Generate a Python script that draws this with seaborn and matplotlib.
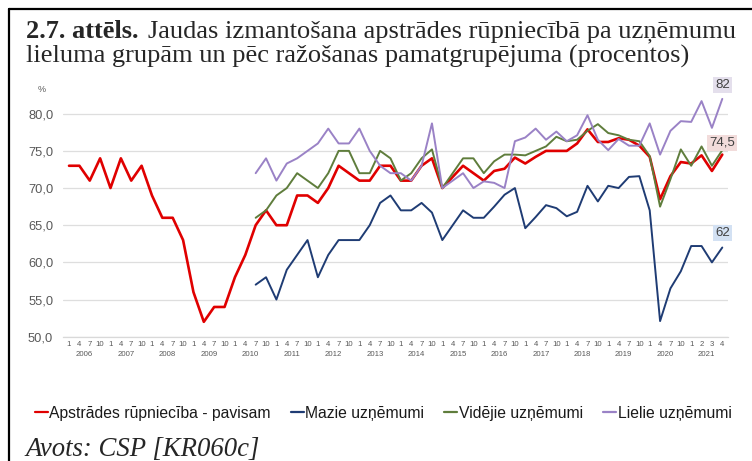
import numpy as np
import pandas as pd
import matplotlib
matplotlib.use("Agg")
import matplotlib.pyplot as plt
import matplotlib.transforms as mtransforms
from matplotlib.lines import Line2D
import seaborn as sns

# ---------------- data ----------------
years = list(range(2006, 2022))
quarter_labels = ["1", "4", "7", "10"] * 15 + ["1", "2", "3", "4"]

series_names = ["Apstrādes rūpniecība - pavisam", "Mazie uzņēmumi",
                "Vidējie uzņēmumi", "Lielie uzņēmumi"]

total = [73, 73, 71, 74, 70, 74, 71, 73, 69, 66, 66, 63, 56, 52, 54, 54,
         58, 61, 65, 67, 65, 65, 69, 69, 68, 70, 73, 72, 71, 71, 73, 73,
         71, 71, 73, 74, 70, 71.5, 73, 72, 71, 72.3, 72.6, 74.1,
         73.3, 74.2, 75, 75, 75, 76, 77.9, 76.2, 76.2, 76.7, 76.5, 75.7,
         74.2, 68.5, 71.6, 73.5, 73.3, 74.4, 72.3, 74.5]
# small / medium / large start at 2010 Q3 (index 18)
small = [57, 58, 55, 59, 61, 63, 58, 61, 63, 63, 63, 65, 68, 69,
         67, 67, 68, 66.7, 63, 65, 67, 66, 66, 67.5, 69.1, 70,
         64.6, 66.1, 67.7, 67.3, 66.2, 66.8, 70.3, 68.2, 70.3, 70, 71.5, 71.6,
         67, 52.1, 56.5, 58.8, 62.2, 62.2, 60, 62]
medium = [66, 67, 69, 70, 72, 71, 70, 72, 75, 75, 72, 72, 75, 74,
          71, 72, 74, 75.2, 70, 72, 74, 74, 72, 73.6, 74.5, 74.5,
          74.4, 75, 75.6, 76.9, 76.3, 76.5, 77.7, 78.6, 77.4, 77.1, 76.5, 76.3,
          74.3, 67.5, 71.2, 75.2, 73, 75.6, 73, 75.1]
large = [72, 74, 71, 73.3, 74, 75, 76, 78, 76, 76, 78, 75, 73, 72,
         72, 71, 73, 78.7, 70, 71, 72, 70, 70.9, 70.7, 70, 76.3,
         76.8, 78, 76.5, 77.6, 76.3, 77.1, 79.8, 76.5, 75.1, 76.6, 75.7, 75.7,
         78.7, 74.5, 77.7, 79, 78.9, 81.7, 78.1, 82]
start_sub = 18

colors = ["#e00000", "#1f3c74", "#5f7d3c", "#9a82c6"]
label_bg = ["#f2dcdb", "#d3e1f3", None, "#e4dfec"]
label_offset_pt = [8.5, 10.5, None, 10.0]

# ---------------- long-form table ----------------
rows = []
for i, v in enumerate(total):
    rows.append((i, v, series_names[0]))
for name, vals in zip(series_names[1:], [small, medium, large]):
    for j, v in enumerate(vals):
        rows.append((start_sub + j, v, name))
df = pd.DataFrame(rows, columns=["idx", "value", "series"])

# ---------------- figure ----------------
sns.set_style("white")
plt.rcParams["font.family"] = ["Liberation Sans", "DejaVu Sans"]

W, H = 752, 461
fig = plt.figure(figsize=(W / 100, H / 100), dpi=100)

def fx(px):
    return px / W

def fy(py):
    return (H - py) / H

ax_left, ax_right = 63, 728
ax_top, ax_bottom = 84.0, 336.7
ax = fig.add_axes([fx(ax_left), fy(ax_bottom), fx(ax_right - ax_left),
                   (ax_bottom - ax_top) / H])

palette = dict(zip(series_names, colors))
widths = {series_names[0]: 1.9, series_names[1]: 1.4,
          series_names[2]: 1.4, series_names[3]: 1.4}
sns.lineplot(data=df, x="idx", y="value", hue="series", hue_order=series_names,
             palette=palette, ax=ax, legend=False, estimator=None)
for line, name in zip(ax.get_lines(), series_names):
    line.set_linewidth(widths[name])
    line.set_solid_joinstyle("round")

n = len(total)
ax.set_xlim(-0.58, n - 1 + 0.55)
ax.set_ylim(50, 84)
ax.set_yticks([50, 55, 60, 65, 70, 75, 80])
ax.set_yticklabels([f"{v:.1f}".replace(".", ",") for v in [50, 55, 60, 65, 70, 75, 80]])
ax.yaxis.grid(True, color="#dedede", linewidth=0.9)
ax.set_axisbelow(True)
ax.set_xlabel("")
ax.set_ylabel("")
for s in ["top", "right", "left"]:
    ax.spines[s].set_visible(False)
ax.spines["bottom"].set_color("#d9d9d9")
ax.spines["bottom"].set_linewidth(0.9)

ax.tick_params(axis="y", length=0, pad=7, labelsize=9.3, labelcolor="#595959")
ax.set_xticks(np.arange(n))
ax.set_xticklabels(quarter_labels)
ax.tick_params(axis="x", which="major", length=0, pad=3.2, labelsize=5.6,
               labelcolor="#595959")
ax.set_xticks(np.arange(-0.5, n, 4), minor=True)
ax.tick_params(axis="x", which="minor", length=21.5, width=0.8,
               color="#d9d9d9", direction="out")

trans = mtransforms.blended_transform_factory(ax.transData, ax.transAxes)
axh = ax_bottom - ax_top
for k, yr in enumerate(years):
    ax.text(4 * k + 1.5, -18.3 / axh, str(yr), transform=trans, ha="center",
            va="center", fontsize=5.6, color="#595959")

# end-of-series data labels
ends = [total[-1], small[-1], None, large[-1]]
for c, (v, bg, off) in enumerate(zip(ends, label_bg, label_offset_pt)):
    if v is None:
        continue
    txt = f"{v:g}".replace(".", ",")
    ax.annotate(txt, xy=(n - 1, v), xytext=(0, off), textcoords="offset points",
                ha="center", va="center", fontsize=9.5, color="#404040",
                annotation_clip=False,
                bbox=dict(boxstyle="square,pad=0.15", fc=bg, ec="none"))

fig.text(fx(42), fy(90), "%", fontsize=6.5, color="#595959", ha="center",
         va="center")

# legend
handles = [Line2D([], [], color=c, lw=1.6) for c in colors]
fig.legend(handles, series_names, loc="center", bbox_to_anchor=(fx(383), fy(413)),
           ncol=4, frameon=False, fontsize=11.3, handlelength=0.85,
           handletextpad=0.1, columnspacing=1.25, borderaxespad=0,
           labelcolor="#1a1a1a")

# title
serif = ["Liberation Serif", "DejaVu Serif"]
TS = 19.0
t1 = fig.text(fx(26), fy(37.6), "2.7. attēls.", fontsize=TS, fontweight="bold",
              family=serif, va="baseline", ha="left")
fig.canvas.draw()
bb = t1.get_window_extent(fig.canvas.get_renderer())
fig.text((bb.x1 + 9) / W, fy(37.6),
         "Jaudas izmantošana apstrādes rūpniecībā pa uzņēmumu",
         fontsize=TS, family=serif, va="baseline", ha="left")
fig.text(fx(26), fy(62.6),
         "lieluma grupām un pēc ražošanas pamatgrupējuma (procentos)",
         fontsize=TS, family=serif, va="baseline", ha="left")
fig.text(fx(25), fy(456), "Avots: CSP [KR060c]", fontsize=19.3, family=serif,
         style="italic", va="baseline", ha="left")

# frame lines (left and top)
fig.add_artist(Line2D([fx(9.3), fx(9.3)], [fy(9.3), 0], color="black", lw=1.6,
                      transform=fig.transFigure))
fig.add_artist(Line2D([fx(8.5), 1], [fy(9.3), fy(9.3)], color="black", lw=1.6,
                      transform=fig.transFigure))

fig.savefig("out.png", dpi=100)
